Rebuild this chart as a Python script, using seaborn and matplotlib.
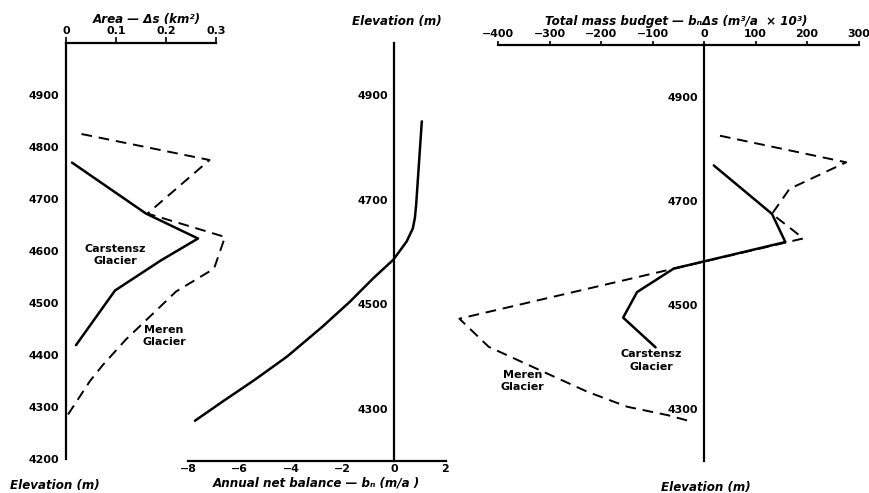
import matplotlib
matplotlib.use("Agg")
import matplotlib.pyplot as plt
import pandas as pd
import seaborn as sns

# ---- Area of each elevation band (km²) ----
carstensz_area_elev = [4770, 4672, 4624, 4582, 4524, 4419]
carstensz_area = [0.012, 0.160, 0.264, 0.190, 0.098, 0.020]
meren_area_elev = [4825, 4775, 4672, 4627, 4566, 4522, 4476, 4430, 4380, 4350, 4284]
meren_area = [0.031, 0.287, 0.163, 0.318, 0.296, 0.220, 0.170, 0.120, 0.073, 0.048, 0.003]

# ---- Annual net balance profile (m/a) ----
balance_elev = [4277, 4314, 4355, 4400, 4457, 4505, 4550, 4585, 4620, 4645, 4665, 4690, 4850]
balance = [-7.73, -6.65, -5.42, -4.15, -2.78, -1.71, -0.80, -0.03, 0.49, 0.73, 0.81, 0.86, 1.08]

# ---- Total mass budget per band (m³/a × 10³) ----
carstensz_budget_elev = [4768, 4675, 4621, 4570, 4525, 4476, 4419]
carstensz_budget = [19, 132, 158, -59, -130, -157, -94]
meren_budget_elev = [4825, 4774, 4723, 4675, 4628, 4474, 4420, 4369, 4334, 4305, 4289, 4277]
meren_budget = [31, 276, 166, 132, 193, -475, -418, -305, -227, -149, -71, -26]

# ---- Axis ticks ----
area_ticks = [0, 0.1, 0.2, 0.3]
area_ticklabels = ["0", "0.1", "0.2", "0.3"]
elev_ticks_full = [4200, 4300, 4400, 4500, 4600, 4700, 4800, 4900]
elev_ticks = [4300, 4400, 4500, 4600, 4700, 4800, 4900, 5000]
elev_ticklabels = ["4300", "", "4500", "", "4700", "", "4900", ""]
balance_ticks = [-8, -6, -4, -2, 0, 2]
budget_ticks = [-400, -300, -200, -100, 0, 100, 200, 300]

sns.set_style("white")
plt.rcParams["font.family"] = ["DejaVu Sans"]
plt.rcParams["font.weight"] = "bold"
plt.rcParams["text.color"] = "black"

W, H = 869, 493
fig = plt.figure(figsize=(W / 100, H / 100), dpi=100)


def box(x0, x1, ytop, ybot):
    return [x0 / W, 1 - ybot / H, (x1 - x0) / W, (ybot - ytop) / H]


def ftext(x, y, s, **kw):
    fig.text(x / W, 1 - y / H, s, color="black", **kw)


def clear(ax):
    ax.set_facecolor("none")
    ax.patch.set_alpha(0)
    ax.set_xlabel("")
    ax.set_ylabel("")


TICK = dict(fontsize=7.9, fontweight="bold", color="black")
LABEL = dict(fontsize=8.6, fontweight="bold", fontstyle="italic")
NOTE = dict(fontsize=8.0, fontweight="bold", ha="center", va="center", linespacing=1.3,
            color="black")
SOLID = dict(color="black", lw=1.8, estimator=None, sort=False, clip_on=False, legend=False)
DASHED = dict(color="black", lw=1.4, estimator=None, sort=False, clip_on=False, legend=False)
DASH_PATTERN = (0, (5.5, 3.5))

# ================= Panel 1: area =================
ax1 = fig.add_axes(box(66, 216, 43, 459))
df_c1 = pd.DataFrame({"x": carstensz_area, "y": carstensz_area_elev})
df_m1 = pd.DataFrame({"x": meren_area, "y": meren_area_elev})
sns.lineplot(data=df_c1, x="x", y="y", ax=ax1, **SOLID)
sns.lineplot(data=df_m1, x="x", y="y", ax=ax1, **DASHED)
ax1.lines[-1].set_linestyle(DASH_PATTERN)
ax1.set_xlim(0, 0.3)
ax1.set_ylim(4200, 5000)
for s in ["right", "bottom"]:
    ax1.spines[s].set_visible(False)
for s in ["left", "top"]:
    ax1.spines[s].set_linewidth(1.6)
    ax1.spines[s].set_color("black")
ax1.xaxis.tick_top()
ax1.set_xticks(area_ticks, area_ticklabels, **TICK)
ax1.set_yticks(elev_ticks_full, [str(v) for v in elev_ticks_full], **TICK)
ax1.tick_params(axis="both", direction="out", length=4, width=1.2, pad=1, colors="black")
clear(ax1)
ax1.text(0.098, 4592, "Carstensz\nGlacier", **NOTE)
ax1.text(0.196, 4437, "Meren\nGlacier", **NOTE)
ftext(147, 20, "Area — Δs (km²)", ha="center", va="center", **LABEL)
ftext(10, 485, "Elevation (m)", ha="left", va="center", **LABEL)

# ================= Panel 2: net balance =================
ax2 = fig.add_axes(box(188, 445.5, 43, 461))
df_b = pd.DataFrame({"x": balance, "y": balance_elev})
sns.lineplot(data=df_b, x="x", y="y", ax=ax2, **SOLID)
ax2.lines[-1].set_solid_joinstyle("round")
ax2.set_xlim(-8, 2)
ax2.set_ylim(4200, 5000)
for s in ["right", "top"]:
    ax2.spines[s].set_visible(False)
ax2.spines["left"].set_position(("data", 0))
for s in ["left", "bottom"]:
    ax2.spines[s].set_linewidth(1.6)
    ax2.spines[s].set_color("black")
ax2.set_xticks(balance_ticks, [str(v).replace("-", "−") for v in balance_ticks], **TICK)
ax2.set_xticks(range(-7, 2, 2), minor=True)
ax2.set_yticks(elev_ticks, elev_ticklabels, **TICK)
ax2.tick_params(axis="x", which="both", direction="in", length=4, width=1.2, pad=2, colors="black")
ax2.tick_params(axis="y", direction="inout", length=7, width=1.2, pad=1, colors="black")
clear(ax2)
ftext(397, 22, "Elevation (m)", ha="center", va="center", **LABEL)
ftext(316, 483, "Annual net balance — bₙ (m/a )", ha="center", va="center", **LABEL)

# ================= Panel 3: total mass budget =================
ax3 = fig.add_axes(box(498, 858.5, 44.5, 461.5))
df_c3 = pd.DataFrame({"x": carstensz_budget, "y": carstensz_budget_elev})
df_m3 = pd.DataFrame({"x": meren_budget, "y": meren_budget_elev})
sns.lineplot(data=df_c3, x="x", y="y", ax=ax3, **SOLID)
sns.lineplot(data=df_m3, x="x", y="y", ax=ax3, **DASHED)
ax3.lines[-1].set_linestyle(DASH_PATTERN)
ax3.set_xlim(-400, 300)
ax3.set_ylim(4200, 5000)
for s in ["right", "bottom"]:
    ax3.spines[s].set_visible(False)
ax3.spines["left"].set_position(("data", 0))
for s in ["left", "top"]:
    ax3.spines[s].set_linewidth(1.6)
    ax3.spines[s].set_color("black")
ax3.xaxis.tick_top()
ax3.set_xticks(budget_ticks, [str(v).replace("-", "−") for v in budget_ticks], **TICK)
ax3.set_yticks(elev_ticks + [4200], elev_ticklabels + [""], **TICK)
ax3.tick_params(axis="x", direction="out", length=3, width=1.2, pad=1, colors="black")
ax3.tick_params(axis="y", direction="inout", length=7, width=1.2, pad=1, colors="black")
clear(ax3)
ax3.text(-103, 4394, "Carstensz\nGlacier", **NOTE)
ax3.text(-352, 4355, "Meren\nGlacier", **NOTE)
ftext(676, 22, "Total mass budget — bₙΔs (m³/a  × 10³)", ha="center", va="center", **LABEL)
ftext(706, 487, "Elevation (m)", ha="center", va="center", **LABEL)

fig.savefig("out.png", dpi=100)
